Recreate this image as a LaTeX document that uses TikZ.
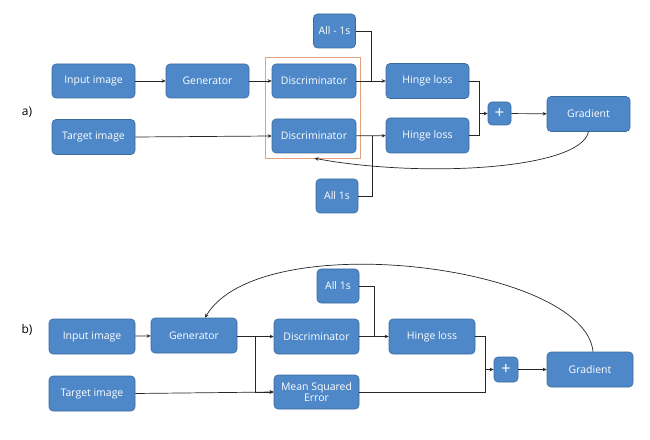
\documentclass[tikz,border=0pt]{standalone}
\usepackage{fontspec}
\setmainfont{Open Sans}
\usetikzlibrary{arrows.meta}
\definecolor{boxfill}{HTML}{4E88C8}
\definecolor{boxline}{HTML}{3A6BA0}
\definecolor{framec}{HTML}{E3A27A}
\begin{document}
\begin{tikzpicture}[x=1bp,y=-1bp,
  box/.style={draw=boxline,fill=boxfill,rounded corners=4bp,text=white,
    font=\fontsize{10.5}{11}\selectfont,inner sep=1bp,align=center,line width=0.6bp},
  conn/.style={draw=black!85,line width=0.7bp},
  arr/.style={conn,-{Stealth[length=4bp,width=3.5bp]}},
  lab/.style={font=\fontsize{12}{13}\selectfont}]
\useasboundingbox (0,0) rectangle (650,440);
% ---------- a) ----------
\node[lab] (la) at (27,112) {a)};
\node[draw=framec,line width=0.6bp,minimum width=95bp,minimum height=101bp,inner sep=0] (frame) at (312.5,107.5) {};
\node[box,minimum width=83bp,minimum height=34bp] (in1) at (93.5,81) {Input image};
\node[box,minimum width=83bp,minimum height=34bp] (gen1) at (207.5,81) {Generator};
\node[box,minimum width=84bp,minimum height=34bp] (d1) at (314,81) {Discriminator};
\node[box,minimum width=84bp,minimum height=34bp] (d2) at (314,136) {Discriminator};
\node[box,minimum width=83bp,minimum height=35bp] (tg1) at (93.5,137) {Target image};
\node[box,minimum width=42bp,minimum height=34bp] (all1) at (334.5,31) {All - 1s};
\node[box,minimum width=42bp,minimum height=34bp] (all2) at (337,196) {All 1s};
\node[box,minimum width=83bp,minimum height=35bp] (h1) at (427.5,81) {Hinge loss};
\node[box,minimum width=83bp,minimum height=35bp] (h2) at (427.5,135.5) {Hinge loss};
\node[box,minimum width=23bp,minimum height=23bp,font=\fontsize{17}{17}\selectfont] (p1) at (499.5,113.5) {+};
\node[box,minimum width=83bp,minimum height=35bp] (gr1) at (588.5,114) {Gradient};
\coordinate (ja1) at (371,81);
\coordinate (ja2) at (372,136);
\coordinate (ja3) at (479,113.5);
\draw[arr] (in1) -- (gen1);
\draw[arr] (gen1) -- (d1);
\draw[arr] (tg1.east) -- (d2.west);
\draw[arr] (d1) -- (h1);
\draw[arr] (d2) -- (h2);
\draw[conn] (all1.east) -| (ja1);
\draw[conn] (all2.east) -| (ja2);
\draw[conn] (h1.east) -| (ja3);
\draw[conn] (h2.east) -| (ja3);
\draw[arr] (ja3) -- (p1.west);
\draw[arr] (p1) -- (gr1);
\draw[arr] (gr1.south) .. controls (580,170) and (420,178) .. ([xshift=2bp]frame.south);
% ---------- b) ----------
\node[lab] (lb) at (27,330) {b)};
\node[box,minimum width=86bp,minimum height=35bp] (in2) at (92,336.5) {Input image};
\node[box,minimum width=86bp,minimum height=35bp] (gen2) at (194,335.5) {Generator};
\node[box,minimum width=86bp,minimum height=35bp] (tg2) at (92,393.5) {Target image};
\node[box,minimum width=85bp,minimum height=35bp] (d3) at (316.5,336.5) {Discriminator};
\node[box,minimum width=85bp,minimum height=34bp,font=\fontsize{10.5}{11}\selectfont] (mse) at (316.5,392) {Mean Squared\\Error};
\node[box,minimum width=42bp,minimum height=34bp] (all3) at (338,286) {All 1s};
\node[box,minimum width=86bp,minimum height=35bp] (h3) at (432,336.5) {Hinge loss};
\node[box,minimum width=24bp,minimum height=25bp,font=\fontsize{17}{17}\selectfont] (p2) at (506,369.5) {+};
\node[box,minimum width=86bp,minimum height=35bp] (gr2) at (590,369.5) {Gradient};
\coordinate (jb1) at (255,336.5);
\coordinate (jb2) at (374,336.5);
\coordinate (jb3) at (485,369.5);
\draw[arr] (in2) -- (gen2);
\draw[arr] (gen2.east |- jb1) -- (d3.west);
\draw[arr] (jb1) |- (mse.west);
\draw[arr] (tg2.east) -- (mse.west);
\draw[arr] (d3) -- (h3);
\draw[conn] (all3.east) -| (jb2);
\draw[conn] (h3.east) -| (jb3);
\draw[conn] (mse.east) -| (jb3);
\draw[arr] (jb3) -- (p2.west);
\draw[arr] (p2) -- (gr2);
\draw[arr] ([xshift=3bp]gr2.north) .. controls (585,265) and (260,225) .. ([xshift=11bp]gen2.north);
\end{tikzpicture}
\end{document}
